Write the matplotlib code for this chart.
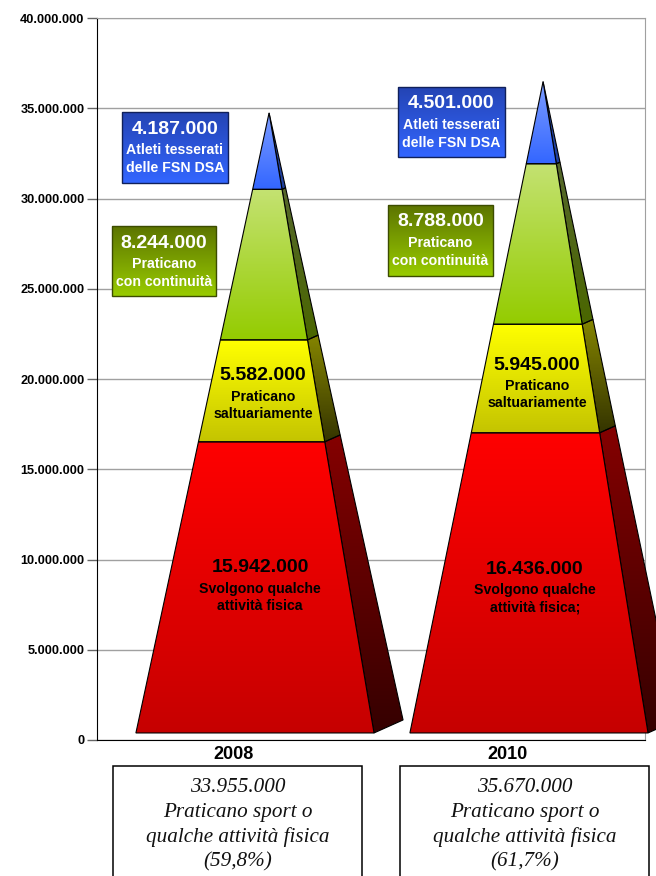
import matplotlib
matplotlib.use('Agg')
import matplotlib.pyplot as plt
import numpy as np
from matplotlib.colors import LinearSegmentedColormap
from matplotlib.patches import Polygon, Rectangle

plt.rcParams['font.family'] = ['Liberation Sans', 'DejaVu Sans']

years = ['2008', '2010']
attivita = [15942000, 16436000]
saltuari = [5582000, 5945000]
continui = [8244000, 8788000]
atleti = [4187000, 4501000]
y_ticks = [0, 5000000, 10000000, 15000000, 20000000, 25000000, 30000000, 35000000, 40000000]

totale_text = ['33.955.000', '35.670.000']
quota_text = ['(59,8%)', '(61,7%)']
attivita_sub = [['Svolgono qualche', 'attività fisica'], ['Svolgono qualche', 'attività fisica;']]

# front colour (top, bottom), side colour (top, bottom)
layer_colors = [
    ('#ff0000', '#c60000', '#850000', '#350000'),
    ('#ffff00', '#c4c400', '#858500', '#343400'),
    ('#c4e272', '#94cc00', '#56682c', '#4a6600'),
    ('#7d9dff', '#3366ff', '#2a4aa8', '#1f3f9c'),
]


def fmt(v):
    return f'{v:,}'.replace(',', '.')


def gradient_poly(ax, pts, top, bottom, edge='black', lw=0.8, zorder=3, flipped=False):
    pts = np.array(pts)
    cmap = LinearSegmentedColormap.from_list('g', [top, bottom])
    grad = np.linspace(0, 1, 256).reshape(-1, 1)
    ext = (pts[:, 0].min(), pts[:, 0].max(), pts[:, 1].min(), pts[:, 1].max())
    # overlay axes run downwards, so the first row has to go to the low end there
    im = ax.imshow(grad, cmap=cmap, extent=ext, origin='lower' if flipped else 'upper', aspect='auto', zorder=zorder)
    poly = Polygon(pts, closed=True, fc='none', ec=edge, lw=lw, zorder=zorder + 0.1, clip_on=False)
    ax.add_patch(poly)
    im.set_clip_box(fig.bbox)
    im.set_clip_path(poly)


fig = plt.figure(figsize=(6.56, 8.76), dpi=100)
W, H = 656, 876
ax = fig.add_axes([97 / W, 1 - 740 / H, 548 / W, 722 / H])

# pyramid geometry, relative to the category centre and in value units
base_lift = 390000
value_scale = 1.0117
left_off, right_off, apex_off, back_off = -0.358, 0.511, 0.128, 0.617
back_lift = 720000

for i in range(2):
    layers = [attivita[i], saltuari[i], continui[i], atleti[i]]
    total = sum(layers)
    left = i + left_off
    right = i + right_off
    apex = i + apex_off
    back = i + back_off
    t0 = 0
    cum = 0
    for val, (c1, c2, s1, s2) in zip(layers, layer_colors):
        cum += val
        t1 = cum / total
        h = total * value_scale
        y0, y1 = base_lift + h * t0, base_lift + h * t1
        fl0, fl1 = left + (apex - left) * t0, left + (apex - left) * t1
        fr0, fr1 = right + (apex - right) * t0, right + (apex - right) * t1
        b0, b1 = back + (apex - back) * t0, back + (apex - back) * t1
        by0 = base_lift + back_lift + (h - back_lift) * t0
        by1 = base_lift + back_lift + (h - back_lift) * t1
        gradient_poly(ax, [(fr0, y0), (b0, by0), (b1, by1), (fr1, y1)], s1, s2, zorder=3)
        gradient_poly(ax, [(fl0, y0), (fr0, y0), (fr1, y1), (fl1, y1)], c1, c2, zorder=4)
        t0 = t1

ax.set_xlim(-0.5, 1.5)
ax.set_ylim(0, 40000000)
ax.set_xticks([0, 1])
ax.set_xticklabels(years, fontsize=13, fontweight='bold')
ax.tick_params(axis='x', length=0, pad=4.5)
ax.set_yticks(y_ticks)
ax.set_yticklabels([fmt(v) for v in y_ticks], fontsize=9.2, fontweight='bold')
ax.tick_params(axis='y', length=7.5, width=1, color='#666666', pad=1.5)
ax.grid(axis='y', color='#a0a0a0', lw=1)
ax.set_axisbelow(True)
ax.spines['left'].set_color('black')
ax.spines['bottom'].set_color('black')
ax.spines['top'].set_color('#a0a0a0')
ax.spines['right'].set_color('#a0a0a0')

# overlay in picture pixels for the call-out boxes and captions
ov = fig.add_axes([0, 0, 1, 1], facecolor='none')
ov.axis('off')

sub_size = 10.2
atleti_boxes = [(122, 112, 228, 183), (398, 87, 505, 157)]
continui_boxes = [(112, 226, 216, 296), (388, 205, 493, 276)]
for i in range(2):
    x0, y0, x1, y1 = atleti_boxes[i]
    gradient_poly(ov, [(x0, y0), (x1, y0), (x1, y1), (x0, y1)], '#2444b4', '#3366ff', edge='#10205a', lw=1.0, zorder=5, flipped=True)
    cx = (x0 + x1) / 2
    ov.text(cx, y0 + 17, fmt(atleti[i]), color='white', fontsize=14, fontweight='bold', ha='center', va='center', zorder=6)
    ov.text(cx, y0 + 38, 'Atleti tesserati', color='white', fontsize=sub_size, fontweight='bold', ha='center', va='center', zorder=6)
    ov.text(cx, y0 + 56, 'delle FSN DSA', color='white', fontsize=sub_size, fontweight='bold', ha='center', va='center', zorder=6)

    x0, y0, x1, y1 = continui_boxes[i]
    gradient_poly(ov, [(x0, y0), (x1, y0), (x1, y1), (x0, y1)], '#5c7400', '#99cc00', edge='#3c4c00', lw=1.0, zorder=5, flipped=True)
    cx = (x0 + x1) / 2
    ov.text(cx, y0 + 17, fmt(continui[i]), color='white', fontsize=14, fontweight='bold', ha='center', va='center', zorder=6)
    ov.text(cx, y0 + 38, 'Praticano', color='white', fontsize=sub_size, fontweight='bold', ha='center', va='center', zorder=6)
    ov.text(cx, y0 + 56, 'con continuità', color='white', fontsize=sub_size, fontweight='bold', ha='center', va='center', zorder=6)

# labels on the pyramids
yellow_pos = [(263, 376), (537, 365)]
red_pos = [(260, 568), (535, 569)]
for i in range(2):
    x, y = yellow_pos[i]
    ov.text(x, y, fmt(saltuari[i]), fontsize=14, fontweight='bold', ha='center', va='center', zorder=6)
    ov.text(x, y + 21, 'Praticano', fontsize=sub_size, fontweight='bold', ha='center', va='center', zorder=6)
    ov.text(x, y + 38, 'saltuariamente', fontsize=sub_size, fontweight='bold', ha='center', va='center', zorder=6)
    x, y = red_pos[i]
    ov.text(x, y, fmt(attivita[i]), fontsize=14, fontweight='bold', ha='center', va='center', zorder=6)
    ov.text(x, y + 21, attivita_sub[i][0], fontsize=sub_size, fontweight='bold', ha='center', va='center', zorder=6)
    ov.text(x, y + 38, attivita_sub[i][1], fontsize=sub_size, fontweight='bold', ha='center', va='center', zorder=6)

# captions below the chart, cut by the bottom of the picture
caption_boxes = [(113, 362), (400, 649)]
for i in range(2):
    x0, x1 = caption_boxes[i]
    ov.add_patch(Rectangle((x0, 766), x1 - x0, 130, fc='white', ec='black', lw=1.1, zorder=5))
    cx = (x0 + x1) / 2
    lines = [totale_text[i], 'Praticano sport o', 'qualche attività fisica', quota_text[i]]
    for j, line in enumerate(lines):
        ov.text(cx, 788 + j * 24.5, line, fontsize=15.2, fontstyle='italic', family='Liberation Serif',
                color='#111111', ha='center', va='center', zorder=6)

ov.set_xlim(0, W)
ov.set_ylim(H, 0)

fig.savefig('out.png', dpi=100)
